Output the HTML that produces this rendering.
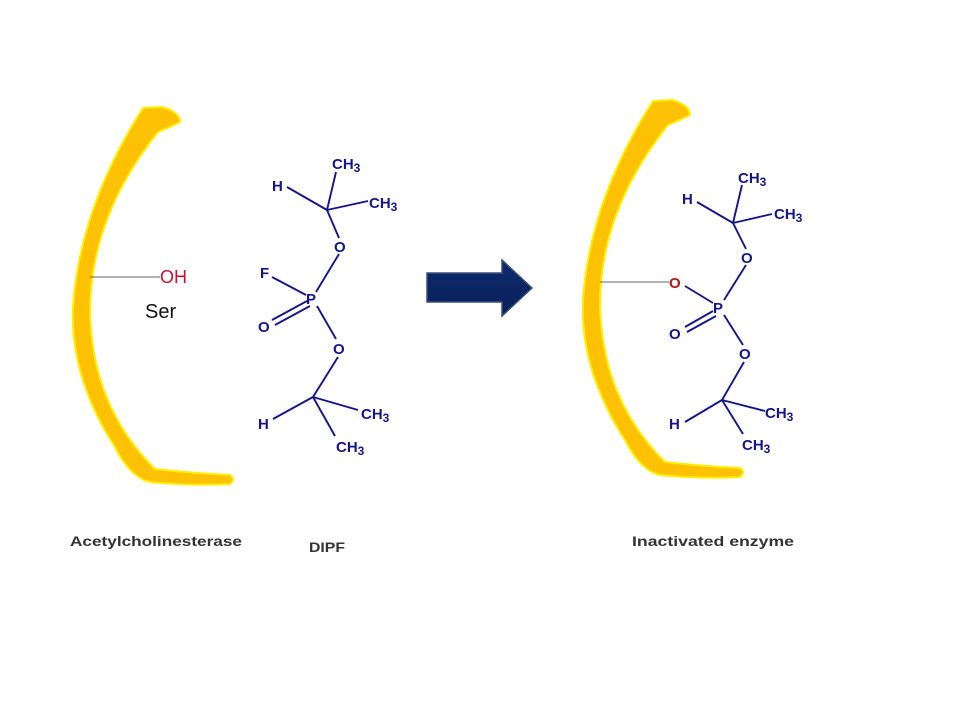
<!DOCTYPE html>
<html><head><meta charset="utf-8"><style>
html,body{margin:0;padding:0;background:#fff;}
svg{display:block}
.m{font-family:"Liberation Sans",Arial,sans-serif;font-weight:bold;font-size:15px;fill:#14148c}
.b{stroke:#14148c;stroke-width:1.9;fill:none}
.lbl{font-family:"Liberation Sans",Arial,sans-serif;font-weight:bold;font-size:14px;fill:#333}
</style></head><body>
<svg width="960" height="720" viewBox="0 0 960 720" xmlns="http://www.w3.org/2000/svg">
<defs>
<path id="cr" d="M653,101 L672,100 Q690,105 690,115 Q680,120 668,125 Q600,210 600,305 Q602,400 665,462 Q700,466 740,468 Q746,472 740,477 Q700,479 660,475 Q640,470 625,440 Q580,370 583,300 Q590,200 653,101 Z"/>
<linearGradient id="ag" x1="0" y1="0" x2="0" y2="1"><stop offset="0" stop-color="#0d2a6a"/><stop offset="1" stop-color="#08205a"/></linearGradient>
</defs>
<use href="#cr" fill="#fbc102" stroke="#ffee00" stroke-width="2"/>
<use href="#cr" transform="translate(-510,7)" fill="#fbc102" stroke="#ffee00" stroke-width="2"/>

<line x1="90" y1="277" x2="160" y2="277" stroke="#333" stroke-width="0.8"/>
<text x="160" y="283" font-family="Liberation Sans,Arial,sans-serif" font-size="18" fill="#c8102e">OH</text>
<text x="145" y="318" font-family="Liberation Sans,Arial,sans-serif" font-size="20" fill="#111">Ser</text>

<g class="b">
<line x1="287" y1="187" x2="327" y2="210"/>
<line x1="327" y1="210" x2="336" y2="172"/>
<line x1="327" y1="210" x2="368" y2="201"/>
<line x1="327" y1="210" x2="339" y2="238"/>
<line x1="339" y1="254" x2="316" y2="292"/>
<line x1="272" y1="277" x2="306" y2="295"/>
<line x1="272" y1="320" x2="307" y2="301"/>
<line x1="275" y1="325" x2="310" y2="306"/>
<line x1="317" y1="306" x2="336" y2="339"/>
<line x1="338" y1="357" x2="313" y2="397"/>
<line x1="273" y1="419" x2="313" y2="397"/>
<line x1="313" y1="397" x2="358" y2="410"/>
<line x1="313" y1="397" x2="335" y2="436"/>
</g>
<text class="m" x="332" y="169">CH<tspan dy="3" font-size="12">3</tspan></text>
<text class="m" x="272" y="191">H</text>
<text class="m" x="369" y="208">CH<tspan dy="3" font-size="12">3</tspan></text>
<text class="m" x="334" y="252">O</text>
<text class="m" x="260" y="278">F</text>
<text class="m" x="306" y="304">P</text>
<text class="m" x="258" y="332">O</text>
<text class="m" x="333" y="354">O</text>
<text class="m" x="258" y="429">H</text>
<text class="m" x="361" y="419">CH<tspan dy="3" font-size="12">3</tspan></text>
<text class="m" x="336" y="452">CH<tspan dy="3" font-size="12">3</tspan></text>

<path d="M427,273 L502,273 L502,260 L532,288 L502,316 L502,302 L427,302 Z" fill="url(#ag)" stroke="#3a4f7a" stroke-width="1.5"/>

<line x1="600" y1="282" x2="669" y2="282" stroke="#333" stroke-width="0.8"/>
<g class="b">
<line x1="697" y1="202" x2="733" y2="223"/>
<line x1="733" y1="223" x2="742" y2="185"/>
<line x1="733" y1="223" x2="772" y2="214"/>
<line x1="733" y1="223" x2="746" y2="249"/>
<line x1="746" y1="265" x2="724" y2="300"/>
<line x1="685" y1="286" x2="713" y2="303"/>
<line x1="685" y1="327" x2="713" y2="311"/>
<line x1="687" y1="332" x2="716" y2="316"/>
<line x1="724" y1="315" x2="743" y2="345"/>
<line x1="744" y1="362" x2="722" y2="400"/>
<line x1="685" y1="422" x2="722" y2="400"/>
<line x1="722" y1="400" x2="765" y2="411"/>
<line x1="722" y1="400" x2="743" y2="434"/>
</g>
<text class="m" x="738" y="183">CH<tspan dy="3" font-size="12">3</tspan></text>
<text class="m" x="682" y="204">H</text>
<text class="m" x="774" y="219">CH<tspan dy="3" font-size="12">3</tspan></text>
<text class="m" x="741" y="263">O</text>
<text class="m" x="669" y="288" style="fill:#b01818">O</text>
<text class="m" x="713" y="313">P</text>
<text class="m" x="669" y="339">O</text>
<text class="m" x="739" y="359">O</text>
<text class="m" x="669" y="429">H</text>
<text class="m" x="765" y="418">CH<tspan dy="3" font-size="12">3</tspan></text>
<text class="m" x="742" y="450">CH<tspan dy="3" font-size="12">3</tspan></text>

<text class="lbl" x="70" y="546" textLength="172" lengthAdjust="spacingAndGlyphs">Acetylcholinesterase</text>
<text class="lbl" x="309" y="552" textLength="36" lengthAdjust="spacingAndGlyphs">DIPF</text>
<text class="lbl" x="632" y="546" textLength="162" lengthAdjust="spacingAndGlyphs">Inactivated enzyme</text>
</svg>
</body></html>
